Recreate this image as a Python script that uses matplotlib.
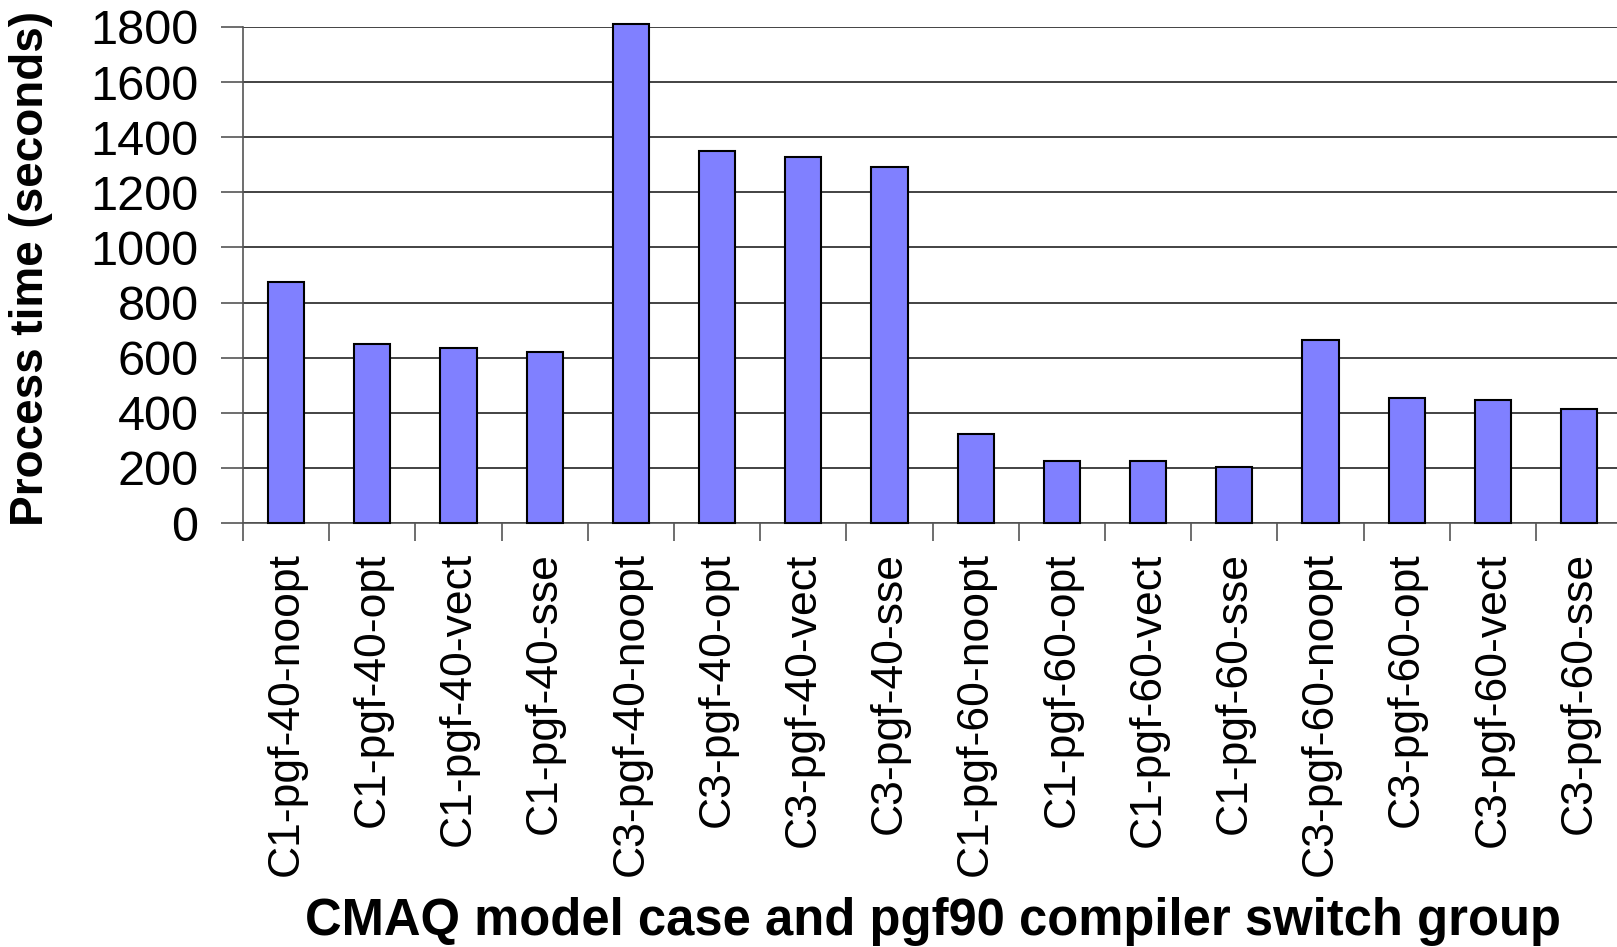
import matplotlib.pyplot as plt
import numpy as np

# runs and process times (seconds)
cases = ["C1-pgf-40-noopt", "C1-pgf-40-opt", "C1-pgf-40-vect", "C1-pgf-40-sse",
         "C3-pgf-40-noopt", "C3-pgf-40-opt", "C3-pgf-40-vect", "C3-pgf-40-sse",
         "C1-pgf-60-noopt", "C1-pgf-60-opt", "C1-pgf-60-vect", "C1-pgf-60-sse",
         "C3-pgf-60-noopt", "C3-pgf-60-opt", "C3-pgf-60-vect", "C3-pgf-60-sse"]
times = [875, 650, 635, 622, 1810, 1350, 1328, 1292,
         324, 225, 224, 203, 665, 455, 448, 412]
yticks = [0, 200, 400, 600, 800, 1000, 1200, 1400, 1600, 1800]

plt.rcParams['font.family'] = ['Liberation Sans', 'DejaVu Sans']

fig = plt.figure(figsize=(16.17, 9.47), dpi=100)
ax = fig.add_axes([243 / 1617, 1 - 523 / 947, 1 - 243 / 1617, (523 - 27) / 947])

x = np.arange(len(cases))
ax.bar(x, times, width=0.42, color='#8080ff', edgecolor='black', linewidth=1.5,
       zorder=3, clip_on=False)

ax.set_ylim(0, 1800)
ax.set_xlim(-0.5, len(cases) - 0.5 - 0.06)
ax.set_yticks(yticks)
ax.set_yticklabels([str(v) for v in yticks], fontsize=35)
ax.yaxis.grid(True, color='#222222', linewidth=1.2, zorder=0)

ax.set_xticks(x)
ax.set_xticklabels(cases, rotation=90, fontsize=32)
ax.set_xticks(np.arange(len(cases)) - 0.5, minor=True)
ax.tick_params(axis='x', which='major', length=0, pad=21)
ax.tick_params(axis='x', which='minor', length=13, width=1.2, color='#555555')
ax.tick_params(axis='y', length=16, width=1.2, color='#555555', pad=16)

for s in ['top', 'right']:
    ax.spines[s].set_visible(False)
ax.spines['left'].set_color('#555555')
ax.spines['left'].set_linewidth(1.2)
ax.spines['bottom'].set_color('#555555')
ax.spines['bottom'].set_linewidth(1.2)

fig.text(31 / 1617, 1 - 268 / 947, "Process time (seconds)", rotation=90,
         fontsize=33, fontweight='bold', ha='center', va='center')
fig.text(933 / 1617, 1 - 921 / 947, "CMAQ model case and pgf90 compiler switch group",
         fontsize=36.5, fontweight='bold', ha='center', va='center')

fig.savefig("out.png", dpi=100)
